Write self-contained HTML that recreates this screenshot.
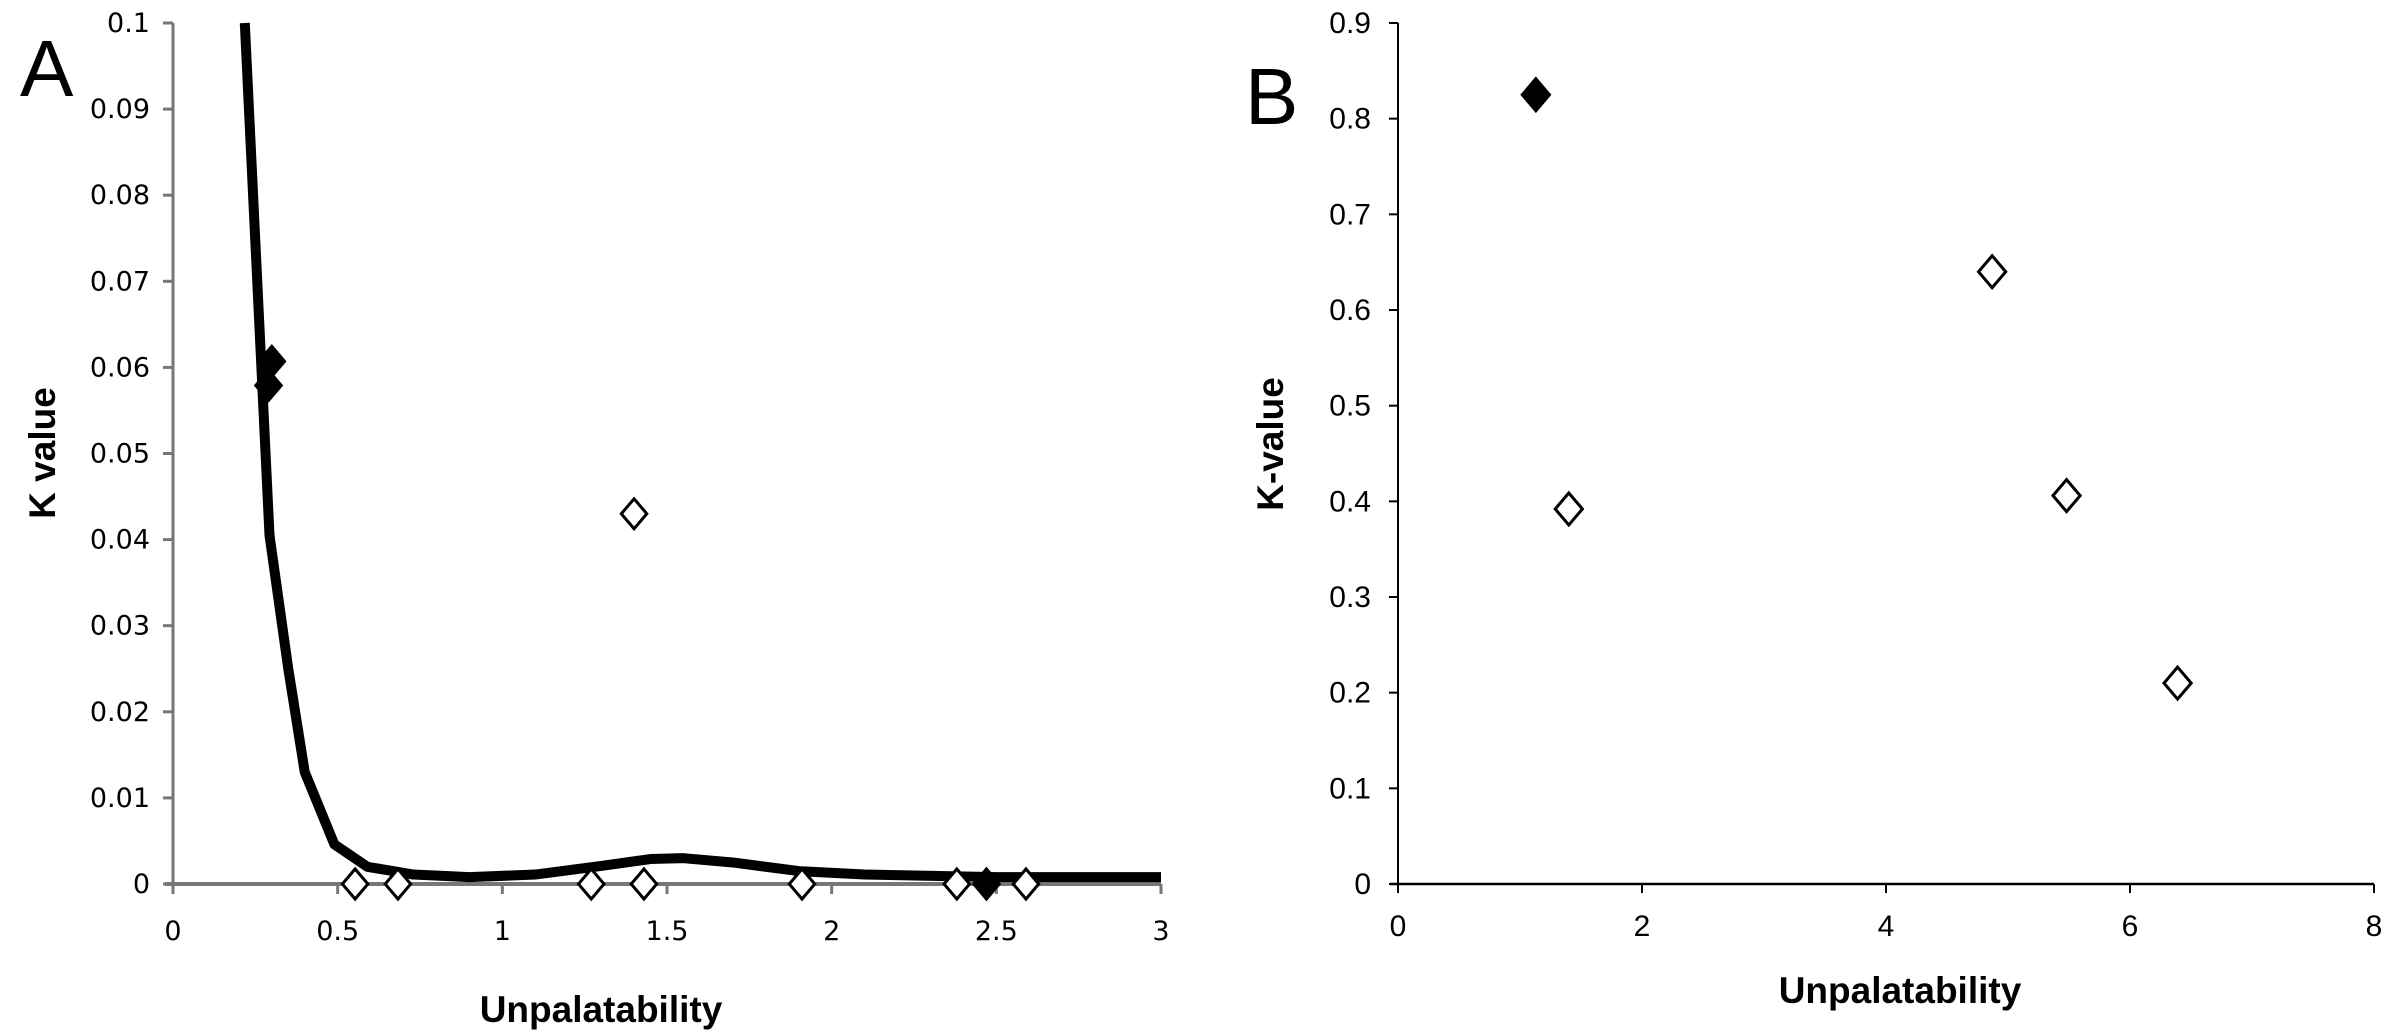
<!DOCTYPE html>
<html><head><meta charset="utf-8"><style>
html,body{margin:0;padding:0;background:#fff;}
svg{display:block;}
</style></head><body>
<svg id="fig" width="2386" height="1033" viewBox="0 0 2386 1033" xmlns="http://www.w3.org/2000/svg" font-family="Liberation Sans, sans-serif"></svg>
<script>
// Panel A data
const aXTicks=[0,0.5,1,1.5,2,2.5,3];
const aXTickLabels=["0","0.5","1","1.5","2","2.5","3"];
const aYTicks=[0,0.01,0.02,0.03,0.04,0.05,0.06,0.07,0.08,0.09,0.1];
const aYTickLabels=["0","0.01","0.02","0.03","0.04","0.05","0.06","0.07","0.08","0.09","0.1"];
const aCurveX=[0.218,0.293,0.35,0.40,0.49,0.59,0.73,0.9,1.1,1.3,1.45,1.55,1.7,1.9,2.1,2.5,3.0];
const aCurveY=[0.1,0.0405,0.025,0.013,0.0046,0.002,0.0011,0.0008,0.0011,0.0021,0.0029,0.003,0.0025,0.0015,0.0011,0.0008,0.0008];
const aFilledX=[0.30,0.29,2.47];
const aFilledY=[0.0607,0.0579,0.0];
const aOpenX=[1.40,0.553,0.683,1.27,1.43,1.91,2.38,2.59];
const aOpenY=[0.043,0,0,0,0,0,0,0];
// Panel B data
const bXTicks=[0,2,4,6,8];
const bXTickLabels=["0","2","4","6","8"];
const bYTicks=[0,0.1,0.2,0.3,0.4,0.5,0.6,0.7,0.8,0.9];
const bYTickLabels=["0","0.1","0.2","0.3","0.4","0.5","0.6","0.7","0.8","0.9"];
const bFilledX=[1.13];
const bFilledY=[0.825];
const bOpenX=[1.40,4.87,5.48,6.39];
const bOpenY=[0.392,0.64,0.406,0.21];

const NS="http://www.w3.org/2000/svg";
const svg=document.getElementById('fig');
function mk(tag,attrs,parent){const e=document.createElementNS(NS,tag);for(const k in attrs)e.setAttribute(k,attrs[k]);(parent||svg).appendChild(e);return e;}
function txt(s,attrs){const e=mk('text',attrs);e.textContent=s;return e;}

const ax=v=>173+v*(1161-173)/3;
const ay=v=>884-v*(884-23)/0.1;
const bx=v=>1398+v*(2374-1398)/8;
const by=v=>884-v*(884-23)/0.9;

function diamond(cx,cy,filled,name,r){
  const p=mk('polygon',{points:`${cx},${cy-r} ${cx+r*0.85},${cy} ${cx},${cy+r} ${cx-r*0.85},${cy}`,fill:filled?'#000':'#fff',stroke:'#000','stroke-width':3});
  
  
}

// ---- Panel A ----
let g;
g=mk('line',{x1:ax(0),y1:ay(0.1),x2:ax(0),y2:ay(0)+6,stroke:'#777','stroke-width':3});

g=mk('line',{x1:ax(0)-8,y1:ay(0),x2:ax(3),y2:ay(0),stroke:'#777','stroke-width':4});

aYTicks.forEach((v,i)=>{
  mk('line',{x1:ax(0)-10,y1:ay(v),x2:ax(0),y2:ay(v),stroke:'#777','stroke-width':3});
  const t=txt(aYTickLabels[i],{x:150,y:ay(v)+9,'text-anchor':'end','font-size':27,'font-family':'DejaVu Sans, sans-serif',fill:'#000'});
  
  
});
aXTicks.forEach((v,i)=>{
  mk('line',{x1:ax(v),y1:ay(0),x2:ax(v),y2:ay(0)+10,stroke:'#777','stroke-width':3});
  const t=txt(aXTickLabels[i],{x:ax(v),y:940,'text-anchor':'middle','font-size':27,'font-family':'DejaVu Sans, sans-serif',fill:'#000'});
  
  
});
const curve=mk('polyline',{points:aCurveX.map((x,i)=>ax(x)+','+ay(aCurveY[i])).join(' '),fill:'none',stroke:'#000','stroke-width':10,'stroke-linejoin':'round'});


aOpenX.forEach((x,i)=>diamond(ax(x),ay(aOpenY[i]),false,'a-open-point',15));
aFilledX.forEach((x,i)=>diamond(ax(x),ay(aFilledY[i]),true,'a-filled-point',15));
g=txt('Unpalatability',{x:601,y:1022,'text-anchor':'middle','font-size':37,'font-weight':'bold',fill:'#000'});

g=txt('K value',{x:0,y:0,'text-anchor':'middle','font-size':37,'font-weight':'bold',fill:'#000',transform:'translate(55,453) rotate(-90)'});

g=txt('A',{x:20,y:96,'font-size':80,fill:'#000'});


// ---- Panel B ----
g=mk('line',{x1:bx(0),y1:by(0.9),x2:bx(0),y2:by(0)+8,stroke:'#000','stroke-width':2});

g=mk('line',{x1:bx(0)-8,y1:by(0),x2:bx(8),y2:by(0),stroke:'#000','stroke-width':2.5});

bYTicks.forEach((v,i)=>{
  mk('line',{x1:bx(0)-9,y1:by(v),x2:bx(0),y2:by(v),stroke:'#000','stroke-width':2});
  const t=txt(bYTickLabels[i],{x:1371,y:by(v)+10,'text-anchor':'end','font-size':30,fill:'#000'});
  
  
});
bXTicks.forEach((v,i)=>{
  mk('line',{x1:bx(v),y1:by(0),x2:bx(v),y2:by(0)+9,stroke:'#000','stroke-width':2});
  const t=txt(bXTickLabels[i],{x:bx(v),y:936,'text-anchor':'middle','font-size':30,fill:'#000'});
  
  
});
bOpenX.forEach((x,i)=>diamond(bx(x),by(bOpenY[i]),false,'b-open-point',16));
bFilledX.forEach((x,i)=>diamond(bx(x),by(bFilledY[i]),true,'b-filled-point',16));
g=txt('Unpalatability',{x:1900,y:1003,'text-anchor':'middle','font-size':37,'font-weight':'bold',fill:'#000'});

g=txt('K-value',{x:0,y:0,'text-anchor':'middle','font-size':37,'font-weight':'bold',fill:'#000',transform:'translate(1283,444) rotate(-90)'});

g=txt('B',{x:1245,y:124,'font-size':80,fill:'#000'});

</script>
</body></html>
